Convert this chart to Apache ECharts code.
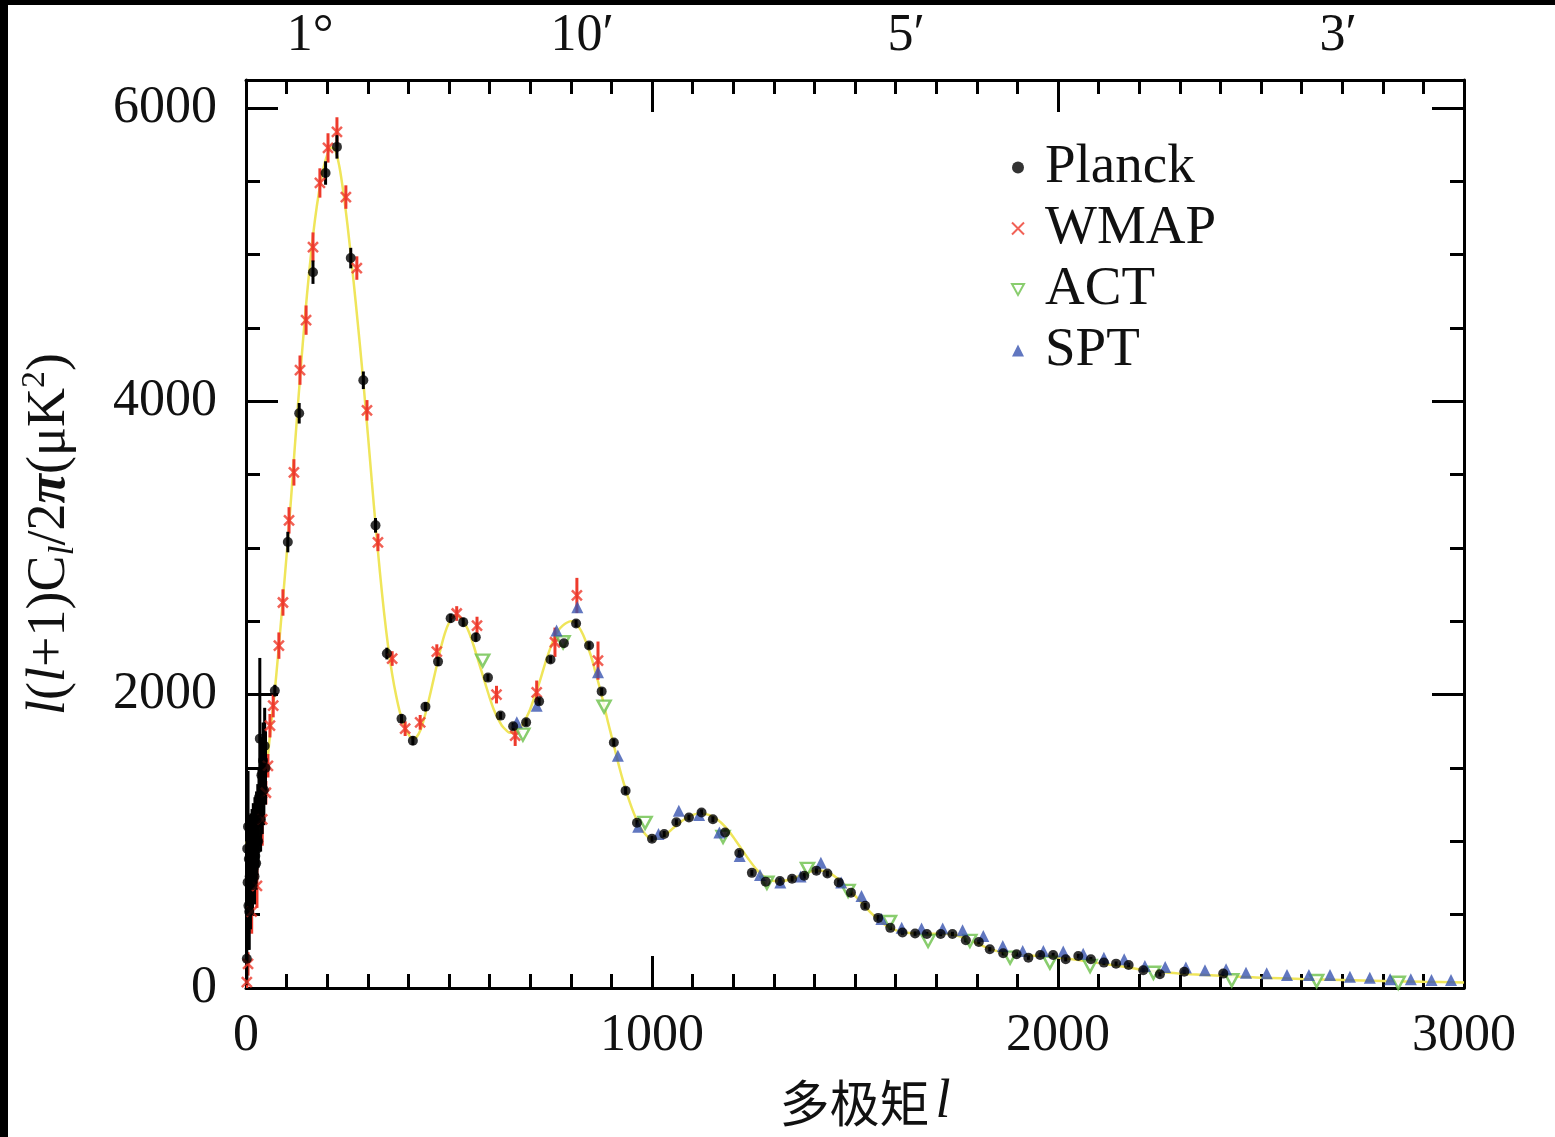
<!DOCTYPE html>
<html><head><meta charset="utf-8">
<script src="https://cdn.jsdelivr.net/npm/echarts@6/dist/echarts.min.js"></script>
<style>html,body{margin:0;padding:0;background:#fff}#c{width:1555px;height:1137px}</style>
</head><body><div id="c"></div>
<script>
// ---------- data ----------
const xTickValues = [0, 1000, 2000, 3000];
const yTickValues = [0, 2000, 4000, 6000];
const topLabelPos = [158, 828, 1626, 2690];
const topLabels = ['1°', '10′', '5′', '3′'];
const seriesNames = ['Planck', 'WMAP', 'ACT', 'SPT'];

// Planck: [l, D_l, half error]
const planck = [
  [2,200,180],[3,950,450],[4,720,380],[5,1100,380],[6,560,300],[7,880,300],[8,520,260],[9,760,260],
  [10,840,240],[11,620,220],[12,960,230],[13,720,210],[14,820,210],[15,1000,220],[16,700,200],[17,900,200],
  [18,1050,210],[19,820,190],[20,980,200],[21,760,190],[22,1100,200],[23,900,190],[24,1000,190],[25,850,180],
  [26,1150,190],[27,950,180],[28,1050,180],[29,1200,190],[30,1000,180],[32,1300,200],[34,1700,550],[36,1150,220],
  [38,1450,260],[40,1300,250],[42,1550,260],[44,1350,240],[46,1650,260],[48,1500,250],
  [71,2027,40],[103,3040,70],[131,3918,70],[165,4880,80],[196,5556,80],[224,5734,80],[258,4976,70],
  [289,4143,60],[319,3154,50],[347,2280,40],[383,1836,30],[411,1686,30],[442,1918,30],[473,2225,30],
  [504,2521,30],[535,2494,30],[566,2391,30],[596,2116,25],[627,1857,25],[658,1784,25],[690,1811,25],
  [722,1954,25],[750,2239,25],[783,2350,25],[813,2485,25],[845,2335,25],[876,2022,25],[906,1674,25],
  [935,1345,25],[963,1126,20],[1000,1017,20],[1030,1050,20],[1060,1130,20],[1091,1162,20],[1122,1197,20],
  [1150,1150,20],[1180,1060,20],[1215,920,20],[1246,785,20],[1280,725,20],[1315,730,20],[1345,745,20],
  [1375,765,20],[1405,800,20],[1432,780,20],[1460,720,20],[1490,650,20],[1525,560,20],[1557,478,20],
  [1587,410,15],[1617,378,15],[1648,371,15],[1677,368,15],[1711,368,15],[1740,368,15],[1773,326,15],
  [1805,314,15],[1832,264,15],[1865,237,15],[1898,230,15],[1927,207,15],[1956,225,15],[1988,225,15],
  [2019,196,15],[2050,218,15],[2081,196,15],[2113,173,15],[2143,166,15],[2174,157,15],[2210,121,15],
  [2251,94,15],[2311,111,15],[2407,98,15]
];
// WMAP: [l, D_l, half error]
const wmap = [
  [2,40,40],[5,164,80],[14,520,150],[27,696,150],[40,1150,180],[49,1331,80],[54,1515,80],[59,1788,80],
  [67,1925,80],[81,2334,90],[91,2628,90],[106,3188,90],[118,3515,90],[133,4212,100],[148,4553,100],
  [165,5051,100],[182,5488,100],[202,5727,100],[224,5836,100],[246,5392,80],[273,4908,80],[298,3938,70],
  [325,3038,60],[360,2246,50],[392,1768,50],[429,1811,50],[470,2293,50],[519,2553,50],[569,2471,60],
  [617,2000,60],[663,1720,70],[716,2016,80],[761,2357,100],[815,2676,120],[867,2232,130]
];
// ACT: [l, D_l]
const act = [
  [583,2232],[682,1727],[781,2357],[882,1918],[983,1126],[1175,1030],[1283,717],[1383,812],[1483,662],
  [1585,450],[1680,321],[1783,321],[1882,207],[1980,173],[2079,150],[2235,104],[2428,53],[2637,48],[2838,36]
];
// SPT: [l, D_l]
const spt = [
  [667,1811],[716,1925],[765,2437],[816,2596],[867,2152],[916,1584],[966,1100],[1016,1050],[1066,1208],
  [1116,1180],[1166,1060],[1216,900],[1266,770],[1316,720],[1366,760],[1416,853],[1466,720],[1516,628],
  [1565,470],[1615,411],[1664,405],[1716,405],[1765,394],[1816,355],[1864,287],[1913,253],[1964,253],
  [2013,248],[2062,234],[2113,207],[2163,196],[2214,150],[2264,143],[2315,139],[2362,121],[2414,128],
  [2463,104],[2514,100],[2564,89],[2618,89],[2670,89],[2719,77],[2768,70],[2818,59],[2869,59],[2920,55],[2968,55]
];
// best-fit curve: [l, D_l]
const bestFit = [
  [2,1000],[10,850],[20,900],[30,1050],[40,1250],[50,1480],[60,1750],[70,2000],[80,2300],[90,2620],
  [100,2950],[110,3300],[120,3680],[130,4050],[140,4400],[150,4720],[160,5000],[170,5240],[180,5430],
  [190,5580],[200,5680],[210,5730],[220,5710],[230,5600],[240,5420],[250,5200],[260,4950],[270,4680],
  [280,4400],[290,4100],[300,3780],[310,3450],[320,3130],[330,2830],[340,2560],[350,2330],[360,2140],
  [370,1990],[380,1870],[390,1790],[400,1730],[410,1700],[420,1710],[430,1760],[440,1850],[450,1960],
  [460,2080],[470,2200],[480,2320],[490,2420],[500,2490],[510,2530],[520,2540],[530,2520],[540,2480],
  [550,2420],[560,2340],[570,2250],[580,2160],[590,2070],[600,1980],[610,1900],[620,1840],[630,1790],
  [640,1760],[650,1740],[660,1740],[670,1760],[680,1790],[690,1840],[700,1900],[710,1980],[720,2060],
  [730,2150],[740,2240],[750,2320],[760,2390],[770,2440],[780,2470],[790,2490],[800,2500],[810,2495],
  [820,2460],[830,2410],[840,2340],[850,2260],[860,2160],[870,2060],[880,1950],[890,1830],[900,1720],
  [910,1610],[920,1500],[930,1400],[940,1310],[950,1230],[960,1160],[970,1100],[980,1060],[990,1030],
  [1000,1015],[1020,1020],[1040,1060],[1060,1110],[1080,1150],[1100,1180],[1120,1190],[1140,1180],
  [1160,1150],[1180,1100],[1200,1030],[1220,950],[1240,870],[1260,800],[1280,750],[1300,730],[1320,730],
  [1340,740],[1360,760],[1380,785],[1400,800],[1420,800],[1440,780],[1460,740],[1480,690],[1500,630],
  [1520,570],[1540,510],[1560,460],[1580,420],[1600,395],[1620,380],[1640,373],[1660,370],[1680,370],
  [1700,370],[1720,370],[1740,365],[1760,350],[1780,330],[1800,305],[1820,280],[1840,260],[1860,243],
  [1880,232],[1900,225],[1920,222],[1940,220],[1960,218],[1980,215],[2000,208],[2050,190],[2100,170],
  [2150,150],[2200,128],[2250,110],[2300,98],[2350,90],[2400,83],[2450,77],[2500,70],[2600,62],
  [2700,55],[2800,48],[2900,42],[3000,38]
];

// ---------- styling ----------
const SERIF = 'Liberation Serif';
const BLACK = '#000';
const TXT = '#111';
const C_PLANCK = '#000000', C_WMAP = '#ee3a2c', C_ACT = '#6cc04a', C_SPT = '#3a55b0', C_FIT = '#efe55a';
const X_PATH = 'path://M0,0L10,10M10,0L0,10';
const DOWN_TRI = 'path://M0,0L10,0L5,9Z';
const plain = v => String(Math.round(v));

function errBars(data, color, width, z) {
  return {
    type: 'custom', xAxisIndex: 0, yAxisIndex: 0, z: z, silent: true, clip: true,
    data: data.map(d => [d[0], d[1] - d[2], d[1] + d[2]]),
    encode: { x: 0, y: [1, 2] },
    renderItem: function (params, api) {
      const a = api.coord([api.value(0), api.value(1)]);
      const b = api.coord([api.value(0), api.value(2)]);
      return { type: 'line', shape: { x1: a[0], y1: a[1], x2: b[0], y2: b[1] },
               style: { stroke: color, lineWidth: width } };
    }
  };
}

function xAx(pos, labels) {
  return {
    type: 'value', position: pos, min: 0, max: 3000, interval: 1000,
    axisLine: { onZero: false, lineStyle: { color: BLACK, width: 3 } },
    axisTick: { inside: true, length: 32, lineStyle: { color: BLACK, width: 3 } },
    minorTick: { show: true, splitNumber: 10, length: 14, lineStyle: { color: BLACK, width: 3 } },
    splitLine: { show: false }, minorSplitLine: { show: false },
    axisLabel: labels ? { margin: 22, fontFamily: SERIF, fontSize: 52, color: TXT,
      customValues: xTickValues, formatter: plain } : { show: false }
  };
}
function yAx(pos, interval, len, labels, showLine) {
  return {
    type: 'value', position: pos, min: 0, max: 6190, interval: interval,
    axisLine: { show: showLine, onZero: false, lineStyle: { color: BLACK, width: 3 } },
    axisTick: { inside: true, length: len, lineStyle: { color: BLACK, width: 3 } },
    splitLine: { show: false },
    axisLabel: labels ? { margin: 29, fontFamily: SERIF, fontSize: 52, color: TXT,
      customValues: yTickValues, formatter: plain } : { show: false }
  };
}

const xAxes = [xAx('bottom', true), xAx('top', false), {
  type: 'value', position: 'top', min: 0, max: 3000,
  axisLine: { show: false, onZero: false }, axisTick: { show: false }, splitLine: { show: false },
  axisLabel: { customValues: topLabelPos, margin: 18, fontFamily: SERIF, fontSize: 52, color: TXT,
    formatter: v => topLabels[topLabelPos.indexOf(v)] || '' }
}];
xAxes[0].name = '多极矩{i|l}';
xAxes[0].nameLocation = 'middle';
xAxes[0].nameGap = 88;
xAxes[0].nameTextStyle = { fontFamily: 'Noto Sans CJK SC', fontSize: 50, color: TXT, padding: [0, 0, 0, 20],
  rich: { i: { fontFamily: SERIF, fontStyle: 'italic', fontSize: 54, color: TXT, padding: [0, 0, 0, 6] } } };

const yAxes = [yAx('left', 2000, 32, true, true), yAx('left', 500, 14, false, false),
               yAx('right', 2000, 32, false, true), yAx('right', 500, 14, false, false)];
yAxes[0].name = '{i|l}({i|l}+1)C{s|l}/2{p|π}(μK{u|2})';
yAxes[0].nameLocation = 'middle';
yAxes[0].nameGap = 164;
yAxes[0].nameTextStyle = { fontFamily: SERIF, fontSize: 54, color: TXT, lineHeight: 64,
  rich: {
    i: { fontFamily: SERIF, fontStyle: 'italic', fontSize: 54, color: TXT, lineHeight: 64 },
    p: { fontFamily: SERIF, fontStyle: 'italic', fontWeight: 'bold', fontSize: 54, color: TXT, lineHeight: 64 },
    s: { fontFamily: SERIF, fontStyle: 'italic', fontSize: 36, color: TXT, lineHeight: 32, verticalAlign: 'bottom' },
    u: { fontFamily: SERIF, fontSize: 34, color: TXT, lineHeight: 30, verticalAlign: 'top' }
  } };

const chart = echarts.init(document.getElementById('c'), null, { renderer: 'canvas' });
chart.setOption({
  backgroundColor: '#fff',
  animation: false,
  grid: { left: 246, right: 91, top: 80, bottom: 149, containLabel: false },
  xAxis: xAxes,
  yAxis: yAxes,
  legend: {
    orient: 'vertical', left: 1006, top: 135, itemWidth: 12, itemHeight: 12, itemGap: 6,
    textStyle: { fontFamily: SERIF, fontSize: 55, color: TXT, lineHeight: 52, padding: [0, 0, 0, 16] },
    data: [
      { name: seriesNames[0], icon: 'circle' },
      { name: seriesNames[1], icon: X_PATH },
      { name: seriesNames[2], icon: DOWN_TRI },
      { name: seriesNames[3], icon: 'triangle' }
    ]
  },
  graphic: [
    { type: 'rect', shape: { x: 0, y: 0, width: 1555, height: 5 }, style: { fill: '#000' }, z: 100 },
    { type: 'rect', shape: { x: 0, y: 0, width: 8, height: 1137 }, style: { fill: '#000' }, z: 100 }
  ],
  series: [
    { type: 'line', data: bestFit, showSymbol: false, smooth: 0.3, z: 1, silent: true,
      lineStyle: { color: C_FIT, width: 2.5 }, clip: true },
    errBars(wmap, C_WMAP, 3, 2),
    errBars(planck, C_PLANCK, 3, 3),
    { name: seriesNames[1], type: 'scatter', data: wmap.map(d => [d[0], d[1]]), symbol: X_PATH, symbolSize: 10, z: 4,
      itemStyle: { color: 'rgba(0,0,0,0)', borderColor: C_WMAP, borderWidth: 2.5 } },
    { name: seriesNames[2], type: 'scatter', data: act, symbol: DOWN_TRI, symbolSize: [13, 12], z: 4,
      itemStyle: { color: '#fff', borderColor: C_ACT, borderWidth: 2.5 } },
    { name: seriesNames[3], type: 'scatter', data: spt, symbol: 'triangle', symbolSize: 12, z: 5,
      itemStyle: { color: C_SPT } },
    { name: seriesNames[0], type: 'scatter', data: planck.map(d => [d[0], d[1]]), symbol: 'circle', symbolSize: 10, z: 6,
      itemStyle: { color: C_PLANCK } }
  ]
});
</script></body></html>
